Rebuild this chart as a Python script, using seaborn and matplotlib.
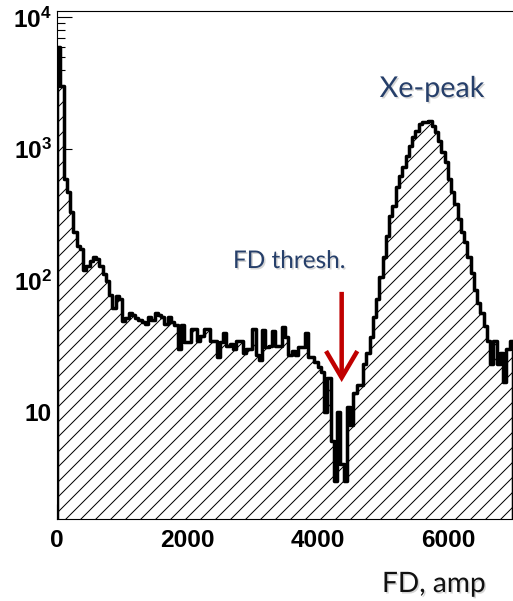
import numpy as np
import pandas as pd
import matplotlib
matplotlib.use("Agg")
import matplotlib.pyplot as plt
import matplotlib.patheffects as pe
from matplotlib.ticker import FixedLocator, FixedFormatter, MultipleLocator, LogLocator, NullFormatter
import seaborn as sns

# FD amplitude spectrum: 140 bins of 50 amp covering 0 .. 7000
amp_min = 0
amp_max = 7000
bin_width = 50
counts = [
    6000, 3000, 590, 470, 330, 233, 182, 173, 121, 128,
    140, 152, 145, 128, 112, 100, 78, 62, 76, 72,
    49, 52, 57, 55, 52, 50, 48, 47, 53, 50,
    57, 55, 53, 47, 53, 48, 46, 30, 46, 34,
    34, 43, 43, 35, 38, 43, 43, 35, 35, 26,
    34, 40, 32, 33, 30, 35, 35, 28, 30, 30,
    43, 27, 25, 42, 31, 32, 41, 32, 32, 44,
    37, 27, 29, 27, 31, 31, 40, 26, 26, 24,
    22, 20, 10, 18, 6, 3, 10, 4, 3, 11,
    8, 14, 16, 16, 23, 28, 37, 53, 72, 107,
    152, 217, 307, 367, 513, 622, 730, 885, 1050, 1235,
    1370, 1550, 1600, 1610, 1620, 1500, 1350, 1150, 950, 795,
    590, 470, 380, 292, 232, 195, 152, 115, 85, 68,
    57, 45, 35, 23, 35, 23, 28, 17, 30, 35,
]

x_ticks = [0, 2000, 4000, 6000]
x_tick_labels = ["0", "2000", "4000", "6000"]
y_ticks = [10, 100, 1000, 10000]
y_tick_labels = ["10", "$10^{2}$", "$10^{3}$", "$10^{4}$"]

threshold_amp = 4370
arrow_top, arrow_tip = 82, 16.9

edges = [float(e) for e in np.arange(amp_min, amp_max + bin_width, bin_width)]
centers = [e + bin_width / 2 for e in edges[:-1]]
df = pd.DataFrame({"amp": centers, "n": counts})

sns.set_theme(style="white")
plt.rcParams["font.family"] = ["Liberation Sans", "DejaVu Sans"]
plt.rcParams["mathtext.fontset"] = "custom"
plt.rcParams["mathtext.rm"] = "Liberation Sans:bold"
plt.rcParams["mathtext.it"] = "Liberation Sans:bold"
plt.rcParams["mathtext.bf"] = "Liberation Sans:bold"
plt.rcParams["hatch.linewidth"] = 0.8
plt.rcParams["hatch.color"] = "black"

DPI = 90
fig = plt.figure(figsize=(513 / DPI, 601 / DPI), dpi=DPI)
fig.patch.set_facecolor("white")
ax = fig.add_axes([57 / 513, 1 - 519.3 / 601, 1 - 57 / 513, (519.3 - 11) / 601])

sns.histplot(data=df, x="amp", weights="n", bins=edges, element="step",
             fill=True, color="black", ax=ax, legend=False)
ax.set_yscale("log")
for coll in ax.collections:
    coll.set_facecolor("white")
    coll.set_edgecolor("black")
    coll.set_hatch("//")
    coll.set_linewidth(2.8)
    coll.set_alpha(1)

ax.set_xlim(amp_min, amp_max)
ax.set_ylim(1.53, 11200)
ax.set_xlabel("")
ax.set_ylabel("")

# ROOT-like frame: inward ticks on left and bottom
for side in ["left", "bottom", "top"]:
    ax.spines[side].set_visible(True)
    ax.spines[side].set_color("black")
    ax.spines[side].set_linewidth(0.9)
ax.spines["right"].set_visible(False)

ax.xaxis.set_major_locator(FixedLocator(x_ticks))
ax.xaxis.set_major_formatter(FixedFormatter(x_tick_labels))
ax.xaxis.set_minor_locator(MultipleLocator(500))
ax.yaxis.set_major_locator(FixedLocator(y_ticks))
ax.yaxis.set_major_formatter(FixedFormatter(y_tick_labels))
ax.yaxis.set_minor_locator(LogLocator(base=10, subs=np.arange(2, 10)))
ax.yaxis.set_minor_formatter(NullFormatter())

ax.tick_params(axis="both", which="major", direction="in", length=12, width=0.9,
               color="black", labelsize=19.5, labelcolor="black",
               bottom=True, left=True, top=False, right=False)
ax.tick_params(axis="both", which="minor", direction="in", length=6, width=0.9,
               color="black", bottom=True, left=True, top=False, right=False)
ax.tick_params(axis="x", which="major", pad=8)
ax.tick_params(axis="y", which="major", pad=4)
for lab in ax.get_xticklabels() + ax.get_yticklabels():
    lab.set_fontweight("bold")

shadow = [pe.withSimplePatchShadow(offset=(1.2, -1.2), shadow_rgbFace="#888888", alpha=0.35)]
label_font = ["Lato", "DejaVu Sans"]

fig.text(432 / 513, 1 - 97 / 601, "Xe-peak", ha="center", va="baseline",
         fontsize=23, family=label_font, color="#263f6a", path_effects=shadow)
fig.text(289.5 / 513, 1 - 268 / 601, "FD thresh.", ha="center", va="baseline",
         fontsize=19.5, family=label_font, color="#263f6a", path_effects=shadow)
fig.text(434 / 513, 1 - 592 / 601, "FD, amp", ha="center", va="baseline",
         fontsize=22.5, family=label_font, color="#111111", path_effects=shadow)

ax.annotate("", xy=(threshold_amp, arrow_tip), xytext=(threshold_amp, arrow_top),
            arrowprops=dict(arrowstyle="->,head_length=0.85,head_width=0.5",
                            lw=3.6, color="#c00000", mutation_scale=25,
                            shrinkA=0, shrinkB=0, joinstyle="miter", capstyle="butt"))

fig.savefig("out.png", dpi=DPI, facecolor="white")
